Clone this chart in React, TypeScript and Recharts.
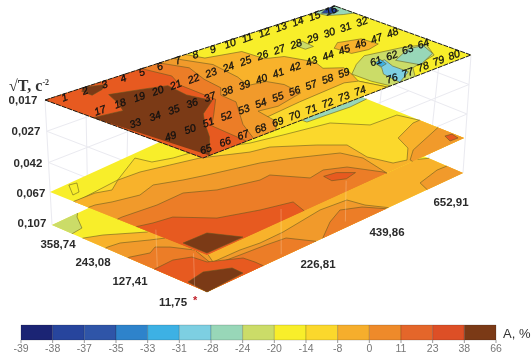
import { Bar, BarChart, Scatter, ScatterChart, XAxis, YAxis } from 'recharts';

type Pt = number[]

// colour scale, A, %
const legendTicks = ['-39', '-38', '-37', '-35', '-33', '-31', '-28', '-24', '-20', '-14', '-8', '0', '11', '23', '38', '66']
const legendColors = ['#1b2474', '#27459d', '#2f55a8', '#2e83cb', '#3db1e4', '#7dcfe2', '#98d7b8', '#cbdc68', '#f8ee2a', '#fbd82c', '#f6ae2c', '#ee8a2a', '#e4662a', '#dd4f26', '#7b3a16']
// the plates print a little lighter than the scale
const plateTints: Record<string, string> = { '-8': '#f8b22b', '0': '#f19a2b', '11': '#ec7d27', '23': '#e75a20' }

// axis tick labels
const timeTicks = ['0,017', '0,027', '0,042', '0,067', '0,107']
const sideTicks = ['358,74', '243,08', '127,41', '11,75']
const depthTicks = ['226,81', '439,86', '652,91']

// sample numbers printed on the top plate, row by row (60 and 75 are not printed)
const sampleRows = [
    [1, 2, 3, 4, 5, 6, 7, 8, 9, 10, 11, 12, 13, 14, 15, 16],
    [17, 18, 19, 20, 21, 22, 23, 24, 25, 26, 27, 28, 29, 30, 31, 32],
    [33, 34, 35, 36, 37, 38, 39, 40, 41, 42, 43, 44, 45, 46, 47, 48],
    [49, 50, 51, 52, 53, 54, 55, 56, 57, 58, 59, 0, 61, 62, 63, 64],
    [65, 66, 67, 68, 69, 70, 71, 72, 73, 74, 0, 76, 77, 78, 79, 80],
]

// top plate contours, in sample grid units [column, row]
const topAmber = [[7.5, -.13], [7.8, .3], [9.5, .55], [9.6, 1.2], [10.4, 1.4], [10.9, 2.1], [10.6, 2.5], [11.3, 2.8], [11, 3.2], [10.6, 3.6], [11, 4.31], [0, 4.31], [0, -.13]]
const topBand = [[4, 4.31], [4.2, 3.7], [7, 3.55], [10, 3.45], [10.6, 3.6], [11, 4.31]]
const topOrange = [[6.8, -.13], [7.5, .7], [7.2, 1.6], [6.8, 2.1], [7.7, 2.2], [8, 2.6], [7.8, 3.2], [6, 3.4], [5, 3.3], [4.7, 4], [4, 4.31], [0, 4.31], [0, -.13]]
const topRed = [[6, -.13], [6.5, .5], [6, 1.2], [5.8, 1.8], [5.2, 2.1], [5.1, 2.6], [3.5, 3.6], [2.7, 4.31], [0, 4.31], [0, -.13]]
const topDeepRed = [[5, -.13], [5.3, .6], [4.8, 1.1], [4.7, 2.2], [3.4, 2.8], [2.5, 3.2], [2.3, 4.31], [0, 4.31], [0, -.13]]
const topBrown = [[0, 1.22], [1.2, 1.35], [1.6, 1], [2, .5], [3.4, .75], [4.4, .95], [4.2, 1.6], [4.5, 2.2], [3.2, 2.6], [2.5, 3], [1.6, 3.6], [.3, 4.31]]
const topBrownSmall = [[1.5, 0], [1.9, -.13], [2.7, .05], [2.2, .2], [1.5, .3]]
const topBlob = [[12.7, 1.8], [13.3, 1.6], [14.4, 1.8], [14.5, 2.3], [13.7, 2.4], [12.8, 2.3]]
const topPale = [[11.7, 1.1], [12.3, 1], [12.2, 1.4], [11.7, 1.4]]
const topOlive = [[11, 3.2], [12, 2.85], [13, 2.6], [15, 2.85], [16, 3.1], [15.3, 3.7], [13.5, 3.9], [12.8, 4.31], [11.2, 4.31], [11, 3.8]]
const topGreen = [[13.6, 3.3], [15, 3], [15.8, 3.1], [15.4, 3.6], [14, 3.9]]
const topCyan = [[12.7, 3.1], [13.3, 3.1], [13, 3.5], [13, 4], [11.8, 4.31], [12, 3.7], [12.5, 3.4]]
const topSky = [[12.7, 3.1], [13.2, 3], [13, 3.3], [12.6, 3.35]]
const topCornerPale = [[15.2, -.13], [16.5, -.13], [16.5, .5], [16, .4], [15.4, .2]]
const topCornerBlue = [[15.4, 0], [15.9, -.13], [16.3, -.13], [16.2, .15], [15.8, .2]]

// middle plate contours, in % along the two plate edges [front to right, front to left]
const midSoft = [[30.9, 96.5], [32.2, 87.8], [37.9, 83.6], [46.4, 80.4], [58.7, 68.7], [68.4, 63.5], [82.4, 56.5], [88.8, 41.5], [98.2, 39.8], [100, 28], [100, 0], [0, 0], [0, 84], [17.8, 86]]
const midAmber = [[0, 85], [7.7, 84], [12.2, 80.5], [17.8, 85.9], [25.5, 84.4], [34.1, 79.5], [42.8, 74.5], [54.6, 62], [60.5, 59], [70, 44.6], [75.5, 34.4], [73.7, 18.7], [75.7, 5.4], [79.6, 2.9], [85.2, 11.5], [88, 22.3], [97.5, 28.4], [100, 28.3], [100, 0], [0, 0]]
const midOrange = [[0, 75.5], [2.3, 75.1], [6.8, 71.6], [15, 67.3], [22, 70.3], [29.7, 63.9], [36.3, 59.5], [51.5, 50.5], [59.7, 43], [70.6, 30.8], [72.5, 19.3], [70, 0], [0, 0]]
const midOrangeRight = [[80, 0], [80.2, 1.9], [85.3, 8.3], [100, 16.6], [100, 0]]
const midRed = [[0, 57], [1.8, 57], [13.6, 54.1], [23.8, 54.2], [31.4, 45], [43.7, 37.8], [47.8, 38.2], [53.8, 22.4], [59.8, 23.9], [65.5, 18], [69.8, 2.1], [70, 0], [0, 0]]
const midRedRight = [[97.4, 7.9], [99.6, 7], [98.9, 2], [96.1, 2.5]]
const midDeepRed = [[0, 45], [4.7, 42.1], [11, 39.8], [18.6, 24.1], [30.1, 15.5], [39.8, 10.3], [37.8, 0], [0, 0]]
const midDeepRedBlob = [[57, 19], [61, 17.5], [64.5, 11], [60, 9.5], [56.5, 13]]
const midBrown = [[1.1, 17], [10, 16.4], [14.7, 1.2], [.9, 1.5]]
const midPale = [[78.6, 65], [85.5, 63.5], [93.3, 61.6], [100, 62], [100, 100], [78, 100]]
const midKnot = [[6.6, 98.8], [9, 97.6], [5.3, 90.2], [2.8, 90]]

// lower plate contours, same units as the middle plate
const lowTip = [[0, 100], [10, 100], [8.2, 97.4], [4.3, 87.8], [0, 87]]
const lowAmber = [[0, 80.3], [5.2, 75.8], [14.8, 63.2], [38.7, 60], [80, 45], [100, 22], [100, 0], [0, 0]]
const lowOrange = [[0, 65.5], [1, 65.5], [5, 64.3], [11.9, 56.5], [21.6, 46.7], [17.9, 30.9], [14.2, 19.6], [24.5, 19.2], [31.3, 17.5], [40.4, 17.7], [57, 21.2], [66.4, 19.4], [67.6, 9.7], [70.9, 0], [0, 0]]
const lowOrangeRight = [[86, 0], [87.6, 7.2], [96.4, 10.8], [100, 10.4], [100, 0]]
const lowRed = [[0, 51], [.7, 50.9], [6.3, 47.1], [9.8, 49.7], [12.6, 44.7], [16, 34.2], [12.9, 17.4], [22.3, 15.6], [31.6, 14.1], [38.4, 12.4], [42.6, 0], [0, 0]]
const lowRedMiddle = [[45.2, 0], [53.6, 9.2], [60.7, 14.5], [66.2, 9.3], [70, 0]]
const lowDeepRed = [[0, 34], [1, 34], [7.5, 34.4], [12.4, 30.2], [13.1, 21.6], [21.6, 12.4], [22.1, 5.5], [22, 0], [0, 0]]
const lowBrown = [[.8, 13.5], [8, 15.7], [15.2, 8.9], [15, 1.6], [0, 0]]

// projection of each plate on the page: left, back, front, right corners
const topCorners = [[45, 100], [335, 6], [203, 158], [471, 55]]
const midCorners = [[50, 192], [307, 75], [207, 255], [464, 138]]
const lowCorners = [[52, 225], [308, 106], [207, 292], [463, 173]]

const mix = (p: Pt, q: Pt, t: number) => [p[0] + (q[0] - p[0]) * t, p[1] + (q[1] - p[1]) * t]
const bilinear = (c: Pt[], a: number, t: number) => mix(mix(c[0], c[1], a), mix(c[2], c[3], a), t)
const gridToPage = ([s, r]: Pt) => bilinear(topCorners, Math.pow(Math.max(s, 0) / 16.5, .92), .03 + .225 * r)
const percentToPage = (c: Pt[]) => ([a, b]: Pt) => bilinear(c, a / 100, 1 - b / 100)
const framePoint = (a: number, b: number, level: number) => {
    const corners = topCorners.map((p, i) => mix(p, lowCorners[i], level / 4))
    return bilinear(corners, a / 100, 1 - b / 100)
}

const colorOf = (level: string) => plateTints[level] ?? legendColors[legendTicks.indexOf(level)]
const toRow = (p: Pt) => ({ x: p[0], y: p[1] })

const topOnEdge = ([s, r]: Pt) => s <= 0 || s >= 16.5 || r <= -.13 || r >= 4.31
const percentOnEdge = ([a, b]: Pt) => a <= 0 || a >= 100 || b <= 0 || b >= 100

// the contour lines are only the parts of a region that run inside the plate
const innerRuns = (pts: Pt[], onEdge: (p: Pt) => boolean) => {
    const first = pts.findIndex(onEdge)
    if (first < 0) return [[...pts, pts[0]]]
    const runs: Pt[][] = []
    let run: Pt[] = []
    for (let j = 0; j < pts.length; j++) {
        const p = pts[(first + j) % pts.length]
        const q = pts[(first + j + 1) % pts.length]
        if (onEdge(p) && onEdge(q)) {
            if (run.length) runs.push(run)
            run = []
        } else {
            if (!run.length) run = [p]
            run.push(q)
        }
    }
    if (run.length) runs.push(run)
    return runs
}

interface Region { level: string, pts: Pt[] }

const lowRegions: Region[] = [
    { level: '-24', pts: lowTip },
    { level: '-8', pts: lowAmber },
    { level: '0', pts: lowOrange },
    { level: '0', pts: lowOrangeRight },
    { level: '11', pts: lowRed },
    { level: '11', pts: lowRedMiddle },
    { level: '23', pts: lowDeepRed },
    { level: '38', pts: lowBrown },
]
const midRegions: Region[] = [
    { level: '-14', pts: midSoft },
    { level: '-20', pts: midKnot },
    { level: '-28', pts: midPale },
    { level: '-8', pts: midAmber },
    { level: '0', pts: midOrange },
    { level: '0', pts: midOrangeRight },
    { level: '11', pts: midRed },
    { level: '23', pts: midRedRight },
    { level: '23', pts: midDeepRed },
    { level: '23', pts: midDeepRedBlob },
    { level: '38', pts: midBrown },
]
const topRegions: Region[] = [
    { level: '-8', pts: topAmber },
    { level: '-14', pts: topBand },
    { level: '0', pts: topOrange },
    { level: '11', pts: topRed },
    { level: '23', pts: topDeepRed },
    { level: '38', pts: topBrown },
    { level: '38', pts: topBrownSmall },
    { level: '-8', pts: topBlob },
    { level: '-24', pts: topPale },
    { level: '-24', pts: topOlive },
    { level: '-28', pts: topGreen },
    { level: '-31', pts: topCyan },
    { level: '-33', pts: topSky },
    { level: '-28', pts: topCornerPale },
    { level: '-38', pts: topCornerBlue },
]

const plateCorners = (c: Pt[]) => [c[0], c[1], c[3], c[2]]

// wire frame behind the plates
const frameLines: Pt[][] = [
    ...[1, 2].flatMap(k => [
        [framePoint(0, 100, k), framePoint(100, 100, k), framePoint(100, 0, k), framePoint(0, 0, k), framePoint(0, 100, k)],
        [framePoint(30, 100, k), framePoint(30, 40, k)],
        [framePoint(100, 40, k), framePoint(40, 40, k)],
    ]),
    ...[[0, 100], [14, 100], [29, 100], [100, 0], [100, 22], [88, 38]].map(([a, b]) => [framePoint(a, b, 0), framePoint(a, b, 4)]),
]
// light posts seen over the lower plates
const frontPosts: Pt[][] = [
    [framePoint(0, 32, 2.75), framePoint(0, 32, 3.9)],
    [framePoint(0, 8, 3), framePoint(0, 8, 4)],
    [framePoint(54, 0, 2.5), framePoint(54, 0, 3.8)],
    [framePoint(29, 0, 2.5), framePoint(29, 0, 3.9)],
]

// where the printed tick labels sit
const timeAnchors = [[23, 100], [26, 131], [28, 163], [31, 193], [32, 223]]
const sideAnchors = [[58, 244], [93, 262], [130, 281], [173, 302]]
const depthAnchors = [[318, 264], [387, 232], [451, 202]]

const samples = sampleRows.flatMap((row, r) =>
    row.flatMap((n, col) => {
        if (n === 0) return []
        const [x, y] = gridToPage([col + 1 - .35 * (1 - col / 15), r])
        return [{ x, y, text: String(n) }]
    }))

const axisTexts = [
    ...timeTicks.map((text, i) => ({ x: timeAnchors[i][0], y: timeAnchors[i][1], text })),
    ...sideTicks.map((text, i) => ({ x: sideAnchors[i][0], y: sideAnchors[i][1], text })),
    ...depthTicks.map((text, i) => ({ x: depthAnchors[i][0], y: depthAnchors[i][1], text })),
]

const NoMark = () => null

const SampleText = (props: any) => (
    <text
        x={props.cx}
        y={props.cy}
        transform={`rotate(-20 ${props.cx} ${props.cy})`}
        textAnchor="middle"
        dominantBaseline="central"
        fontFamily="Liberation Sans"
        fontStyle="italic"
        fontSize={10.5}
        fill="#111"
        stroke="#111"
        strokeWidth={0.3}
    >
        {props.payload.text}
    </text>
)

const AxisText = (props: any) => (
    <text
        x={props.cx}
        y={props.cy}
        textAnchor="middle"
        dominantBaseline="central"
        fontFamily="Liberation Sans"
        fontWeight="bold"
        fontSize={11.5}
        fill="#2b2b2b"
    >
        {props.payload.text}
    </text>
)

const TitleText = (props: any) => (
    <text x={props.cx} y={props.cy} fontFamily="Liberation Serif" fontWeight="bold" fontSize={16} fill="#333">
        √T, c<tspan fontSize={8} dy={-6}>-2</tspan>
    </text>
)
const StarText = (props: any) => (
    <text x={props.cx} y={props.cy} fontFamily="Liberation Sans" fontWeight="bold" fontSize={11} fill="#c0202a">*</text>
)
const UnitText = (props: any) => (
    <text x={props.cx} y={props.cy} fontFamily="Liberation Sans" fontSize={13} fill="#333">A, %</text>
)

const polygon = (key: string, pts: Pt[], fill: string) => (
    <Scatter
        key={key}
        data={pts.map(toRow)}
        shape={NoMark}
        line={{ fill, stroke: 'none' }}
        lineJointType="linearClosed"
        isAnimationActive={false}
    />
)
const polyline = (key: string, pts: Pt[], stroke: string, width = 0.6, dash?: string) => (
    <Scatter
        key={key}
        data={pts.map(toRow)}
        shape={NoMark}
        line={{ stroke, strokeWidth: width, strokeDasharray: dash, fill: 'none' }}
        lineJointType="linear"
        isAnimationActive={false}
    />
)

const drawPlate = (name: string, regions: Region[], project: (p: Pt) => Pt, onEdge: (p: Pt) => boolean) =>
    regions.flatMap((region, i) => [
        polygon(`${name}-fill-${i}`, region.pts.map(project), colorOf(region.level)),
        ...innerRuns(region.pts, onEdge).map((run, j) => polyline(`${name}-line-${i}-${j}`, run.map(project), '#5e5420', 0.55)),
    ])

const legendRow = [Object.fromEntries(legendColors.map((_, i) => [`cell${i}`, 1]))]

export default function App() {
    return (
        <div style={{ position: 'absolute', left: 0, top: 0, width: 532, height: 364, background: '#fff', filter: 'blur(0.45px)' }}>
            <ScatterChart width={532} height={364} margin={{ top: 0, right: 0, bottom: 0, left: 0 }}>
                <XAxis type="number" dataKey="x" domain={[0, 532]} hide />
                <YAxis type="number" dataKey="y" domain={[0, 364]} reversed hide />

                {frameLines.map((line, i) => polyline(`frame-${i}`, line, '#eaeaf0', 1))}

                {polygon('low-base', plateCorners(lowCorners), colorOf('-20'))}
                {drawPlate('low', lowRegions, percentToPage(lowCorners), percentOnEdge)}
                {polygon('mid-base', plateCorners(midCorners), colorOf('-20'))}
                {drawPlate('mid', midRegions, percentToPage(midCorners), percentOnEdge)}
                {frontPosts.map((line, i) => polyline(`post-${i}`, line, 'rgba(255,245,225,0.25)', 1))}
                {polygon('top-base', plateCorners(topCorners), colorOf('-20'))}
                {drawPlate('top', topRegions, gridToPage, topOnEdge)}
                {polyline('top-edge', [...plateCorners(topCorners), topCorners[0]], '#1c1c1c', 1, '5 1')}

                <Scatter data={samples} shape={SampleText} isAnimationActive={false} />
                <Scatter data={axisTexts} shape={AxisText} isAnimationActive={false} />
                <Scatter data={[{ x: 9, y: 91 }]} shape={TitleText} isAnimationActive={false} />
                <Scatter data={[{ x: 193, y: 304 }]} shape={StarText} isAnimationActive={false} />
                <Scatter data={[{ x: 503, y: 338 }]} shape={UnitText} isAnimationActive={false} />
            </ScatterChart>

            <div style={{ position: 'absolute', left: 0, top: 320 }}>
                <BarChart
                    width={532}
                    height={44}
                    data={legendRow}
                    layout="vertical"
                    barCategoryGap={0}
                    margin={{ top: 5, right: 36, bottom: 0, left: 21 }}
                >
                    <XAxis
                        type="number"
                        domain={[0, 15]}
                        ticks={legendTicks.map((_, i) => i)}
                        tickFormatter={(i: number) => legendTicks[i]}
                        interval={0}
                        height={24}
                        axisLine={false}
                        tickSize={3}
                        tickLine={{ stroke: '#999' }}
                        tick={{ fontSize: 10.5, fontFamily: 'Liberation Sans', fill: '#777' }}
                    />
                    <YAxis type="category" hide />
                    {legendColors.map((color, i) => (
                        <Bar
                            key={color}
                            dataKey={`cell${i}`}
                            stackId="legend"
                            fill={color}
                            stroke="rgba(30,30,30,0.3)"
                            strokeWidth={0.6}
                            isAnimationActive={false}
                        />
                    ))}
                </BarChart>
            </div>
        </div>
    )
}
